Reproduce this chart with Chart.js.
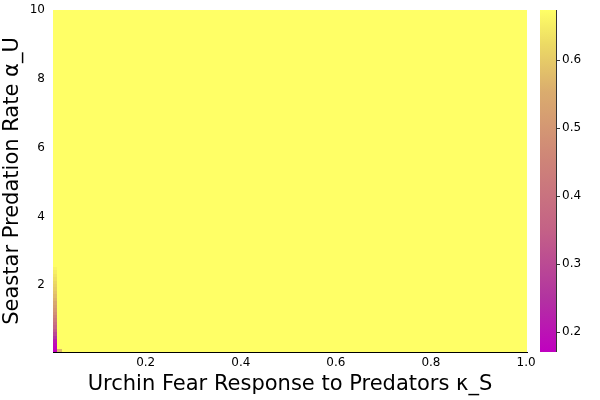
<!DOCTYPE html>
<html>
<head>
<meta charset="utf-8">
<script src="https://cdn.jsdelivr.net/npm/chart.js@4.4.1/dist/chart.umd.min.js"></script>
<style>
  html, body { margin: 0; padding: 0; background: #ffffff; }
  #wrap { width: 600px; height: 400px; position: relative; }
</style>
</head>
<body>
<div id="wrap"><canvas id="c" width="600" height="400"></canvas></div>
<script>
// Grid of urchin fear response (x) and seastar predation rate (y)
const kappaS = [0.01,0.02,0.03,0.04,0.05,0.06,0.07,0.08,0.09,0.10,
  0.11,0.12,0.13,0.14,0.15,0.16,0.17,0.18,0.19,0.20,
  0.21,0.22,0.23,0.24,0.25,0.26,0.27,0.28,0.29,0.30,
  0.31,0.32,0.33,0.34,0.35,0.36,0.37,0.38,0.39,0.40,
  0.41,0.42,0.43,0.44,0.45,0.46,0.47,0.48,0.49,0.50,
  0.51,0.52,0.53,0.54,0.55,0.56,0.57,0.58,0.59,0.60,
  0.61,0.62,0.63,0.64,0.65,0.66,0.67,0.68,0.69,0.70,
  0.71,0.72,0.73,0.74,0.75,0.76,0.77,0.78,0.79,0.80,
  0.81,0.82,0.83,0.84,0.85,0.86,0.87,0.88,0.89,0.90,
  0.91,0.92,0.93,0.94,0.95,0.96,0.97,0.98,0.99,1.00];
const alphaU = [0.1,0.2,0.3,0.4,0.5,0.6,0.7,0.8,0.9,1.0,
  1.1,1.2,1.3,1.4,1.5,1.6,1.7,1.8,1.9,2.0,
  2.1,2.2,2.3,2.4,2.5,2.6,2.7,2.8,2.9,3.0,
  3.1,3.2,3.3,3.4,3.5,3.6,3.7,3.8,3.9,4.0,
  4.1,4.2,4.3,4.4,4.5,4.6,4.7,4.8,4.9,5.0,
  5.1,5.2,5.3,5.4,5.5,5.6,5.7,5.8,5.9,6.0,
  6.1,6.2,6.3,6.4,6.5,6.6,6.7,6.8,6.9,7.0,
  7.1,7.2,7.3,7.4,7.5,7.6,7.7,7.8,7.9,8.0,
  8.1,8.2,8.3,8.4,8.5,8.6,8.7,8.8,8.9,9.0,
  9.1,9.2,9.3,9.4,9.5,9.6,9.7,9.8,9.9,10.0];

// Values
const plateauValue = 0.673;                 // nearly the whole field
const firstColumnLow = [0.171,0.18,0.19,0.21,0.25,0.29,0.33,0.36,0.39,0.42,
  0.45,0.48,0.50,0.52,0.54,0.56,0.575,0.59,0.60,0.61,0.62,0.63,0.64,0.65,0.66]; // kappa=0.01, alpha 0.1..2.5
const secondColumnLow = [0.57];             // kappa=0.02, alpha 0.1

const xTicks = [0.2, 0.4, 0.6, 0.8, 1.0];
const yTicks = [2, 4, 6, 8, 10];
const cbTicks = [0.2, 0.3, 0.4, 0.5, 0.6];
const cbMin = 0.1706, cbMax = 0.6735;

// build the table the library needs
const cells = [];
for (let i = 0; i < kappaS.length; i++) {
  for (let j = 0; j < alphaU.length; j++) {
    let v = plateauValue;
    if (i === 0 && j < firstColumnLow.length) v = firstColumnLow[j];
    if (i === 1 && j < secondColumnLow.length) v = secondColumnLow[j];
    cells.push({ x: kappaS[i], y: alphaU[j], v: v });
  }
}

const stops = [
  [0.00, [192, 0, 192]],
  [0.16, [178, 52, 160]],
  [0.36, [196, 98, 134]],
  [0.56, [206, 132, 120]],
  [0.76, [218, 172, 110]],
  [0.90, [236, 218, 100]],
  [1.00, [255, 255, 102]]
];
function colorFor(v) {
  let t = (v - cbMin) / (cbMax - cbMin);
  t = Math.max(0, Math.min(1, t));
  for (let k = 1; k < stops.length; k++) {
    if (t <= stops[k][0]) {
      const a = stops[k - 1], b = stops[k];
      const f = (t - a[0]) / (b[0] - a[0]);
      const c = a[1].map((ch, n) => Math.round(ch + (b[1][n] - ch) * f));
      return `rgb(${c[0]},${c[1]},${c[2]})`;
    }
  }
  return 'rgb(255,255,102)';
}

const dx = 0.01, dy = 0.1;
const heatmapPlugin = {
  id: 'heatmap',
  beforeDatasetsDraw(chart) {
    const { ctx, chartArea, scales } = chart;
    const xs = scales.x, ys = scales.y;
    ctx.save();
    ctx.beginPath();
    ctx.rect(chartArea.left, chartArea.top, chartArea.right - chartArea.left, chartArea.bottom - chartArea.top);
    ctx.clip();
    chart.data.datasets[0].data.forEach(d => {
      const x0 = xs.getPixelForValue(d.x - dx / 2), x1 = xs.getPixelForValue(d.x + dx / 2);
      const y0 = ys.getPixelForValue(d.y + dy / 2), y1 = ys.getPixelForValue(d.y - dy / 2);
      ctx.fillStyle = colorFor(d.v);
      ctx.fillRect(Math.floor(x0), Math.floor(y0), Math.ceil(x1) - Math.floor(x0), Math.ceil(y1) - Math.floor(y0));
    });
    ctx.restore();
  },
  afterDraw(chart) {
    const { ctx, chartArea, scales } = chart;
    const cb = scales.cb;
    const left = chartArea.right + 13, right = chartArea.right + 29;
    const top = cb.getPixelForValue(cbMax), bottom = cb.getPixelForValue(cbMin);
    const g = ctx.createLinearGradient(0, bottom, 0, top);
    stops.forEach(s => g.addColorStop(s[0], `rgb(${s[1][0]},${s[1][1]},${s[1][2]})`));
    ctx.save();
    ctx.fillStyle = g;
    ctx.fillRect(left, top, right - left, bottom - top);
    ctx.strokeStyle = '#333333';
    ctx.lineWidth = 1;
    ctx.beginPath();
    ctx.moveTo(right + 0.5, top);
    ctx.lineTo(right + 0.5, bottom);
    cbTicks.forEach(t => {
      const py = Math.round(cb.getPixelForValue(t)) + 0.5;
      ctx.moveTo(right, py);
      ctx.lineTo(right + 4, py);
    });
    ctx.stroke();
    ctx.restore();
  }
};

const noPad = s => { s.paddingTop = 0; s.paddingBottom = 0; };
const font = "'DejaVu Sans', sans-serif";
new Chart(document.getElementById('c'), {
  type: 'scatter',
  data: { datasets: [{ data: cells, pointRadius: 0, pointHoverRadius: 0 }] },
  options: {
    responsive: false,
    animation: false,
    events: [],
    layout: { padding: { top: 10, left: 0, right: 0, bottom: 0 } },
    plugins: { legend: { display: false }, tooltip: { enabled: false } },
    scales: {
      x: {
        type: 'linear', min: 0.005, max: 1.002, z: 1,
        afterBuildTicks: s => { s.ticks = xTicks.map(v => ({ value: v })); },
        afterFit: s => { s.height = 48; s.paddingLeft = 0; s.paddingRight = 0; },
        grid: { display: false, drawTicks: false },
        border: { display: true, color: '#000000', width: 1 },
        ticks: { color: '#000000', font: { family: font, size: 12 }, padding: 4, maxRotation: 0,
                 callback: v => v.toFixed(1) },
        title: { display: true, text: 'Urchin Fear Response to Predators κ_S', color: '#000000',
                 font: { family: font, size: 21 }, padding: { top: 2, bottom: 3 } }
      },
      y: {
        type: 'linear', min: 0.06, max: 10.0, z: 1,
        afterBuildTicks: s => { s.ticks = yTicks.map(v => ({ value: v })); },
        afterFit: s => { s.width = 53; noPad(s); },
        grid: { display: false, drawTicks: false },
        border: { display: true, color: '#000000', width: 1 },
        ticks: { color: '#000000', font: { family: font, size: 12 }, padding: 8,
                 callback: v => String(v) },
        title: { display: true, text: 'Seastar Predation Rate α_U', color: '#000000',
                 font: { family: font, size: 21 }, padding: { top: 0, bottom: 2 } }
      },
      cb: {
        type: 'linear', position: 'right', min: cbMin, max: cbMax,
        afterBuildTicks: s => { s.ticks = cbTicks.map(v => ({ value: v })); },
        afterFit: s => { s.width = 73; noPad(s); },
        grid: { display: false, drawTicks: false },
        border: { display: false },
        ticks: { color: '#000000', font: { family: font, size: 12 }, padding: 35,
                 callback: v => v.toFixed(1) }
      }
    }
  },
  plugins: [heatmapPlugin]
});
</script>
</body>
</html>
